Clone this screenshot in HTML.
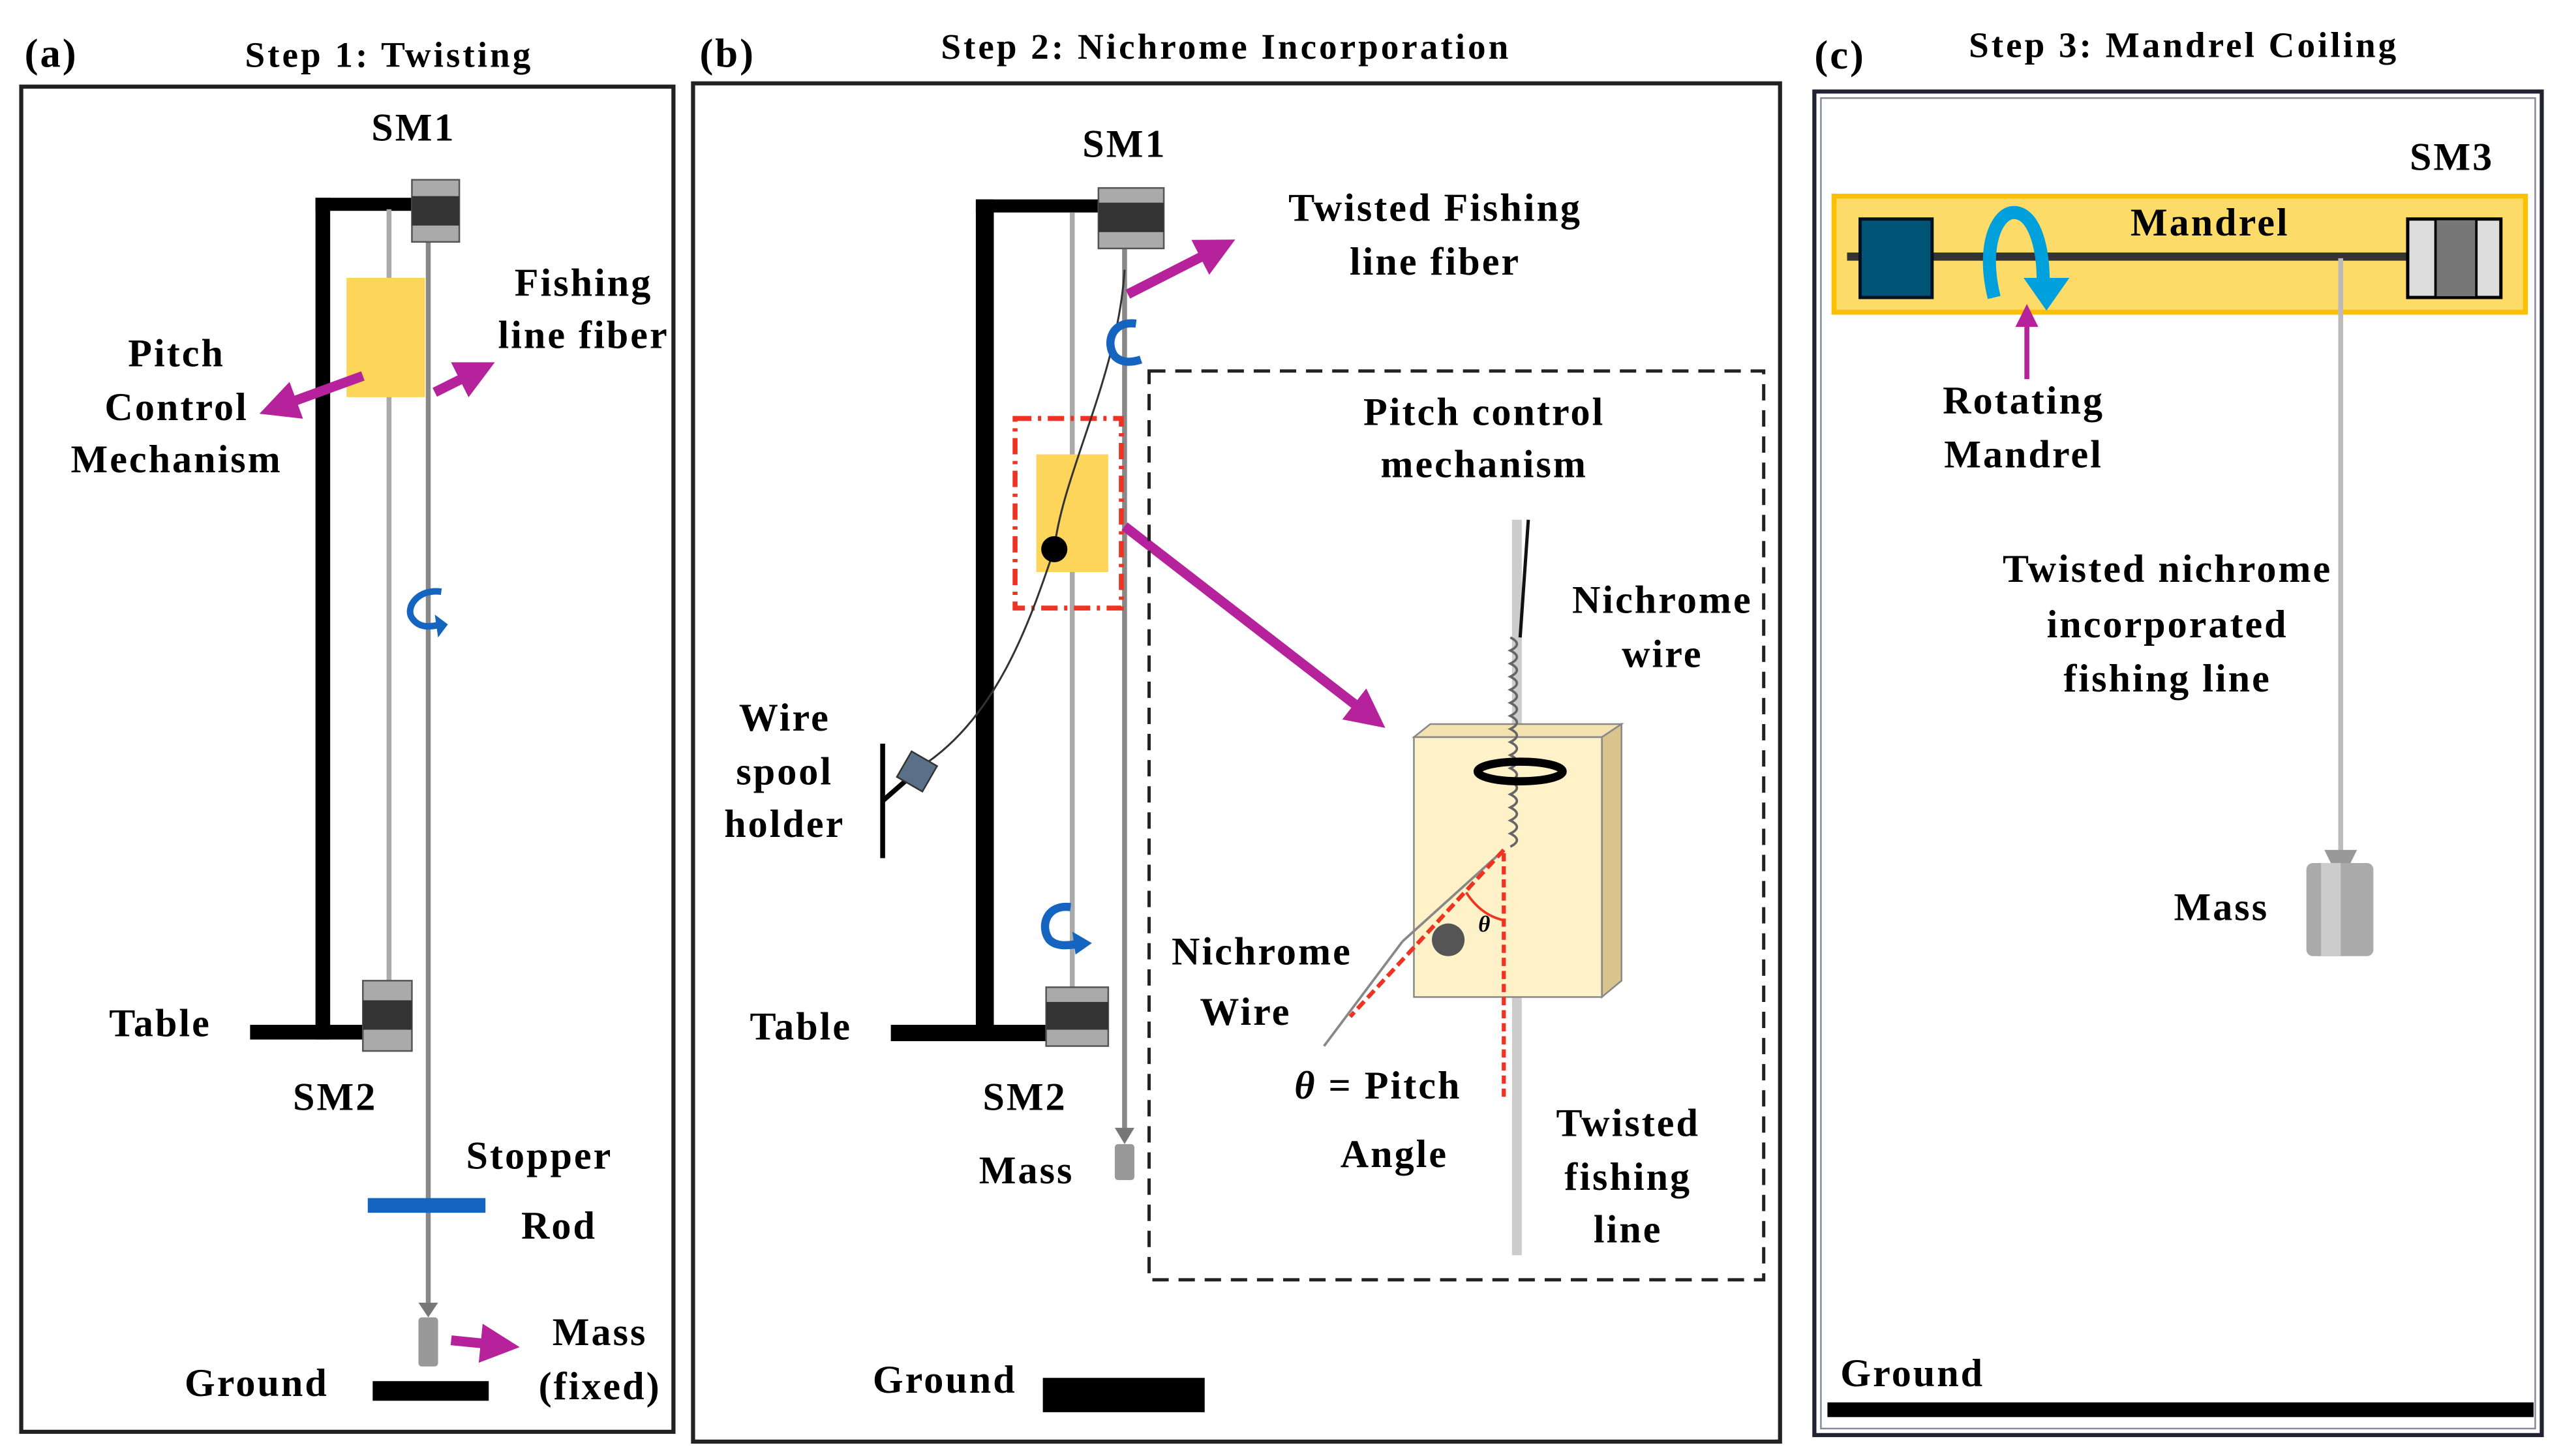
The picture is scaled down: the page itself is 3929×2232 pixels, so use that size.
<!DOCTYPE html>
<html><head><meta charset="utf-8"><style>
html,body{margin:0;padding:0;background:#fff;}
svg{display:block;}
</style></head><body>
<svg width="3929" height="2232" viewBox="0 0 1568 890.8" preserveAspectRatio="none" xmlns="http://www.w3.org/2000/svg">
<defs>
<marker id="mg" markerWidth="4" markerHeight="4" refX="2" refY="2" orient="auto" markerUnits="strokeWidth"><path d="M0,0 L4,2 L0,4 z" fill="#b5229b"/></marker>
</defs>
<g font-size="24" letter-spacing="1.2" text-anchor="middle" font-family="'Liberation Serif', 'Times New Roman', 'DejaVu Serif', serif" font-weight="bold" fill="#000">
<!-- Titles -->
<text x="15" y="41" text-anchor="start" font-size="25">(a)</text>
<text x="238" y="41" font-size="22" letter-spacing="1.6">Step 1: Twisting</text>
<text x="428" y="41" text-anchor="start" font-size="25">(b)</text>
<text x="750" y="36" font-size="22" letter-spacing="1.6">Step 2: Nichrome Incorporation</text>
<text x="1110" y="42" text-anchor="start" font-size="25">(c)</text>
<text x="1336" y="35" font-size="22" letter-spacing="1.6">Step 3: Mandrel Coiling</text>

<!-- Panel a -->
<rect x="13" y="53" width="399" height="823" fill="none" stroke="#222" stroke-width="2.5"/>
<rect x="193" y="121" width="9" height="515" fill="#000"/>
<rect x="193" y="121" width="62" height="8" fill="#000"/>
<rect x="153" y="627" width="97" height="9" fill="#000"/>
<line x1="238" y1="128" x2="238" y2="600" stroke="#aaa" stroke-width="3"/>
<line x1="262" y1="148" x2="262" y2="800" stroke="#888" stroke-width="3"/>
<rect x="252" y="110" width="29" height="38" fill="#aaa" stroke="#555"/>
<rect x="252" y="120" width="29" height="18" fill="#333"/>
<rect x="222" y="600" width="30" height="43" fill="#aaa" stroke="#555"/>
<rect x="222" y="612" width="30" height="18" fill="#333"/>
<rect x="212" y="170" width="48" height="73" fill="#fdd55a"/>
<line x1="222" y1="230" x2="170" y2="249" stroke="#b5229b" stroke-width="6" marker-end="url(#mg)"/>
<line x1="266" y1="240" x2="292" y2="227" stroke="#b5229b" stroke-width="6" marker-end="url(#mg)"/>
<path d="M270,362 C255,360 248,372 252,378 C256,384 262,384 270,382" fill="none" stroke="#1565c0" stroke-width="4"/>
<path d="M266,376 L274,382 L268,390 z" fill="#1565c0"/>
<rect x="225" y="733" width="72" height="9" fill="#1565c0"/>
<path d="M256,797 L268,797 L262,806 z" fill="#777"/>
<rect x="256" y="806" width="12" height="30" rx="2" fill="#999"/>
<line x1="276" y1="820" x2="306" y2="823" stroke="#b5229b" stroke-width="6" marker-end="url(#mg)"/>
<rect x="228" y="845" width="71" height="12" fill="#000"/>
<text x="253" y="86">SM1</text>
<text x="357" y="181">Fishing</text>
<text x="357" y="213">line fiber</text>
<text x="108" y="224">Pitch</text>
<text x="108" y="257">Control</text>
<text x="108" y="289">Mechanism</text>
<text x="98" y="634">Table</text>
<text x="205" y="679">SM2</text>
<text x="330" y="715">Stopper</text>
<text x="342" y="758">Rod</text>
<text x="367" y="823">Mass</text>
<text x="367" y="856">(fixed)</text>
<text x="157" y="854">Ground</text>

<!-- Panel b -->
<rect x="424" y="51" width="665" height="831" fill="none" stroke="#222" stroke-width="2.5"/>
<rect x="597" y="122" width="11" height="514" fill="#000"/>
<rect x="597" y="122" width="83" height="8" fill="#000"/>
<rect x="545" y="627" width="100" height="10" fill="#000"/>
<line x1="656" y1="130" x2="656" y2="604" stroke="#aaa" stroke-width="3"/>
<line x1="688" y1="152" x2="688" y2="692" stroke="#888" stroke-width="3"/>
<rect x="672" y="115" width="40" height="37" fill="#aaa" stroke="#555"/>
<rect x="672" y="124" width="40" height="18" fill="#333"/>
<rect x="640" y="604" width="38" height="36" fill="#aaa" stroke="#555"/>
<rect x="640" y="613" width="38" height="17" fill="#333"/>
<path d="M682,690 L694,690 L688,700 z" fill="#777"/>
<rect x="682" y="700" width="12" height="22" rx="2" fill="#999"/>
<rect x="634" y="278" width="44" height="72" fill="#fdd55a"/>
<rect x="621" y="256" width="65" height="116" fill="none" stroke="#e32" stroke-width="3" stroke-dasharray="10,4,2,4"/>
<path d="M688,165 C684,230 650,290 645,336 C630,380 610,440 562,470" fill="none" stroke="#333" stroke-width="1.2"/>
<circle cx="645" cy="336" r="8" fill="#000"/>
<line x1="540" y1="455" x2="540" y2="525" stroke="#000" stroke-width="3"/>
<line x1="540" y1="490" x2="556" y2="476" stroke="#000" stroke-width="3"/>
<rect x="552" y="463" width="18" height="18" fill="#5a6f88" stroke="#333" transform="rotate(30 561 472)"/>
<path d="M695,198 C680,196 676,210 682,218 C686,222 692,222 698,220" fill="none" stroke="#1565c0" stroke-width="5"/>
<path d="M655,555 C640,553 636,567 642,575 C646,579 652,579 662,577" fill="none" stroke="#1565c0" stroke-width="5"/>
<path d="M656,570 L668,577 L658,584 z" fill="#1565c0"/>
<line x1="690" y1="180" x2="745" y2="152" stroke="#b5229b" stroke-width="6" marker-end="url(#mg)"/>
<line x1="688" y1="322" x2="838" y2="438" stroke="#b5229b" stroke-width="6" marker-end="url(#mg)"/>
<rect x="703" y="227" width="376" height="556" fill="none" stroke="#222" stroke-width="2" stroke-dasharray="10,6"/>
<line x1="928" y1="318" x2="928" y2="768" stroke="#ccc" stroke-width="6"/>
<line x1="935" y1="318" x2="930" y2="390" stroke="#111" stroke-width="2"/>
<path d="M865,451 L875,443 L992,443 L980,451 z" fill="#f3e1b0" stroke="#888"/>
<path d="M980,451 L992,443 L992,600 L980,610 z" fill="#d9c48e" stroke="#888"/>
<rect x="865" y="451" width="115" height="159" fill="#fff2c8" stroke="#888"/>
<path d="M924,390 q8,4 0,8 q8,4 0,8 q8,4 0,8 q8,4 0,8 q8,4 0,8 q8,4 0,8 q8,4 0,8 q8,4 0,8 q8,4 0,8 q8,4 0,8 q8,4 0,8 q8,4 0,8 q8,4 0,8 q8,4 0,8 q8,4 0,8 q8,4 0,8 " fill="none" stroke="#666" stroke-width="1.5"/>
<ellipse cx="930" cy="472" rx="26" ry="6" fill="none" stroke="#000" stroke-width="5"/>
<line x1="920" y1="520" x2="858" y2="576" stroke="#888" stroke-width="1.5"/>
<line x1="858" y1="576" x2="810" y2="640" stroke="#888" stroke-width="1.5"/>
<line x1="920" y1="520" x2="826" y2="622" stroke="#e32" stroke-width="2.5" stroke-dasharray="6,3"/>
<line x1="920" y1="522" x2="920" y2="673" stroke="#e32" stroke-width="2.5" stroke-dasharray="5,3"/>
<path d="M897,546 Q906,560 920,563" fill="none" stroke="#e32" stroke-width="1.5"/>
<circle cx="886" cy="575" r="10" fill="#555"/>
<text x="908" y="570" font-size="14" font-style="italic" letter-spacing="0">θ</text>
<text x="688" y="96">SM1</text>
<text x="878" y="135">Twisted Fishing</text>
<text x="878" y="168">line fiber</text>
<text x="908" y="260">Pitch control</text>
<text x="908" y="292">mechanism</text>
<text x="1017" y="375">Nichrome</text>
<text x="1017" y="408">wire</text>
<text x="480" y="447">Wire</text>
<text x="480" y="480">spool</text>
<text x="480" y="512">holder</text>
<text x="772" y="590">Nichrome</text>
<text x="762" y="627">Wire</text>
<text x="843" y="672"><tspan font-style="italic">θ</tspan> = Pitch</text>
<text x="853" y="714">Angle</text>
<text x="996" y="695">Twisted</text>
<text x="996" y="728">fishing</text>
<text x="996" y="760">line</text>
<text x="490" y="636">Table</text>
<text x="627" y="679">SM2</text>
<text x="628" y="724">Mass</text>
<text x="578" y="852">Ground</text>
<rect x="638" y="843" width="99" height="21" fill="#000"/>

<!-- Panel c -->
<rect x="1110" y="56" width="445" height="822" fill="none" stroke="#223" stroke-width="2.5"/>
<rect x="1114" y="60" width="437" height="814" fill="none" stroke="#889" stroke-width="1"/>
<rect x="1122" y="120" width="423" height="71" fill="#fcdb68" stroke="#fcc000" stroke-width="3"/>
<line x1="1130" y1="157" x2="1475" y2="157" stroke="#333" stroke-width="5"/>
<rect x="1138" y="134" width="44" height="48" fill="#005577" stroke="#012" stroke-width="2"/>
<rect x="1473" y="134" width="57" height="48" fill="#ddd" stroke="#000" stroke-width="2"/>
<rect x="1490" y="134" width="25" height="48" fill="#777" stroke="#000" stroke-width="1.5"/>
<path d="M1220,182 C1212,150 1222,130 1232,130 C1244,130 1250,150 1250,172" fill="none" stroke="#00a0dc" stroke-width="8"/>
<path d="M1238,170 L1266,170 L1252,190 z" fill="#00a0dc"/>
<line x1="1240" y1="232" x2="1240" y2="198" stroke="#b5229b" stroke-width="3"/>
<path d="M1233,200 L1247,200 L1240,186 z" fill="#b5229b"/>
<line x1="1432" y1="158" x2="1432" y2="522" stroke="#bbb" stroke-width="3"/>
<path d="M1422,520 L1442,520 L1438,528 L1426,528 z" fill="#999"/>
<rect x="1411" y="528" width="41" height="57" rx="4" fill="#aaa"/>
<rect x="1420" y="528" width="12" height="57" fill="#ccc"/>
<text x="1500" y="104">SM3</text>
<text x="1352" y="144">Mandrel</text>
<text x="1238" y="253">Rotating</text>
<text x="1238" y="286">Mandrel</text>
<text x="1326" y="356">Twisted nichrome</text>
<text x="1326" y="390">incorporated</text>
<text x="1326" y="423">fishing line</text>
<text x="1359" y="563">Mass</text>
<text x="1170" y="848">Ground</text>
<rect x="1118" y="858" width="432" height="9" fill="#000"/>
</g>
</svg>
</body></html>
